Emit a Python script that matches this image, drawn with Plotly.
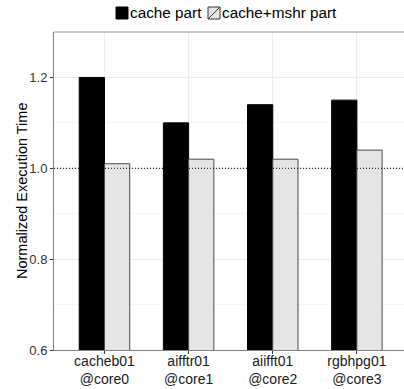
import plotly.graph_objects as go

categories = ["cacheb01<br>@core0", "aifftr01<br>@core1", "aiifft01<br>@core2", "rgbhpg01<br>@core3"]
cache_part = [1.20, 1.10, 1.14, 1.15]
cache_mshr_part = [1.01, 1.02, 1.02, 1.04]
series_names = ["cache part", "cache+mshr part"]
y_ticks = [0.6, 0.8, 1.0, 1.2]

fig = go.Figure()
fig.add_trace(go.Bar(x=categories, y=cache_part, name=series_names[0],
                     marker=dict(color="black", line=dict(color="black", width=1)),
                     showlegend=False))
fig.add_trace(go.Bar(x=categories, y=cache_mshr_part, name=series_names[1],
                     marker=dict(color="#e5e5e5", line=dict(color="#4a4a4a", width=1)),
                     showlegend=False))

fig.update_layout(
    width=404, height=389,
    margin=dict(l=54, r=0, t=32, b=39, autoexpand=False),
    paper_bgcolor="white", plot_bgcolor="white",
    barmode="group", bargap=0.4, bargroupgap=0,
    font=dict(family="Liberation Sans", color="black"),
)
fig.update_xaxes(
    type="category", range=[-0.6, 3.56], automargin=False,
    showgrid=True, gridcolor="#ebebeb", gridwidth=1,
    showline=True, linecolor="#7f7f7f", linewidth=1,
    ticks="outside", ticklen=3, tickcolor="#333333",
    tickfont=dict(size=14, color="#1a1a1a"),
    ticklabelstandoff=-5,
    zeroline=False,
)
fig.update_yaxes(
    range=[0.6, 1.3], tickvals=y_ticks, ticktext=["0.6", "0.8", "1.0", "1.2"],
    automargin=False,
    showgrid=True, gridcolor="#ebebeb", gridwidth=1,
    minor=dict(dtick=0.1, tick0=0.6, showgrid=True, gridcolor="#f5f5f5", gridwidth=1),
    showline=True, linecolor="#7f7f7f", linewidth=1,
    ticks="outside", ticklen=3, tickcolor="#333333",
    tickfont=dict(size=13, color="#333333"),
    zeroline=False,
)

W, H = 404 - 54, 389 - 32 - 39
def px(x):
    return (x - 54) / W
def py(y):
    return (389 - 39 - y) / H

# y-axis title
fig.add_annotation(xref="paper", yref="paper", x=px(22), y=0.5, xanchor="center", yanchor="middle",
                   text="Normalized Execution Time", textangle=-90, showarrow=False,
                   font=dict(size=14.5, color="black"))

# top border
fig.add_shape(type="line", xref="paper", yref="paper", x0=0, x1=1, y0=1, y1=1,
              line=dict(color="#9a9a9a", width=1))
# reference line at 1.0
fig.add_shape(type="line", xref="paper", yref="y", x0=0, x1=1, y0=1.0, y1=1.0,
              line=dict(color="black", width=1, dash="1px,2px"))

# manual legend
fig.add_shape(type="rect", xref="paper", yref="paper",
              x0=px(116), x1=px(128), y0=py(19), y1=py(7),
              fillcolor="black", line=dict(color="black", width=1))
fig.add_annotation(xref="paper", yref="paper", x=px(128), y=py(13), xanchor="left", yanchor="middle",
                   text=series_names[0], showarrow=False, font=dict(size=15.3, color="black"))
fig.add_shape(type="rect", xref="paper", yref="paper",
              x0=px(208), x1=px(220), y0=py(19), y1=py(7),
              fillcolor="#e5e5e5", line=dict(color="#333333", width=1))
fig.add_shape(type="line", xref="paper", yref="paper",
              x0=px(208), x1=px(220), y0=py(19), y1=py(7),
              line=dict(color="#333333", width=1))
fig.add_annotation(xref="paper", yref="paper", x=px(220), y=py(13), xanchor="left", yanchor="middle",
                   text=series_names[1], showarrow=False, font=dict(size=15.3, color="black"))

fig.write_html("out.html", config={"displayModeBar": False},
               post_script="document.body.style.margin='0';document.body.style.overflow='hidden';")
